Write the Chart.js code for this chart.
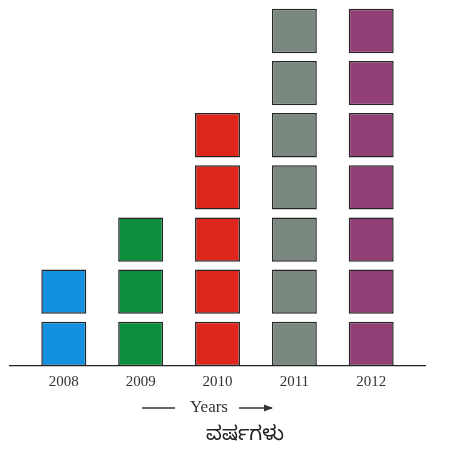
<!DOCTYPE html>
<html>
<head>
<meta charset="utf-8">
<script src="https://cdn.jsdelivr.net/npm/chart.js@4.4.0/dist/chart.umd.min.js"></script>
<style>
  body { margin: 0; background: #fff; }
  canvas { display: block; }
</style>
</head>
<body>
<canvas id="myChart" width="450" height="450"></canvas>
<script>
// data
var years = ['2008', '2009', '2010', '2011', '2012'];
var counts = [2, 3, 5, 7, 7];
var colors = ['#1390df', '#0b8f3d', '#df261c', '#7a887f', '#923f75'];
var blockSize = 0.85;   // part of one unit the square fills, rest is the gap

//one dataset per level of blocks, only years that reach that level
var datasets = [];
for (var k = 0; k < 7; k++) {
    var points = [];
    counts.forEach(function (c, i) {
        if (c > k) points.push({x: i, y: [k, k + blockSize]});
    });
    datasets.push({
        data: points,
        backgroundColor: function (c) { return colors[c.raw.x]; },
        borderColor: '#262626',
        borderWidth: 1.5,
        borderSkipped: false
    });
}

//axis caption: "Years" with arrows, and the kannada word under it
var caption = {
    id: 'caption',
    afterDraw: function (chart) {
        var ctx = chart.ctx;
        var area = chart.chartArea;
        var x0 = area.left;
        var y1 = area.bottom + 42;
        ctx.save();
        ctx.fillStyle = '#333';
        ctx.strokeStyle = '#333';
        ctx.lineWidth = 1.3;
        ctx.textAlign = 'center';
        ctx.textBaseline = 'middle';
        ctx.font = '17px "Liberation Serif", serif';
        ctx.fillText('Years', x0 + 199, y1);

        ctx.beginPath();
        ctx.moveTo(x0 + 132, y1);
        ctx.lineTo(x0 + 165, y1);
        ctx.moveTo(x0 + 229, y1);
        ctx.lineTo(x0 + 262, y1);
        ctx.stroke();
        ctx.beginPath();
        ctx.moveTo(x0 + 263, y1);
        ctx.lineTo(x0 + 254, y1 - 3.5);
        ctx.lineTo(x0 + 254, y1 + 3.5);
        ctx.closePath();
        ctx.fill();

        ctx.fillStyle = '#222';
        ctx.font = '20px "Noto Sans Kannada", "Noto Sans", sans-serif';
        ctx.fillText('ವರ್ಷಗಳು', x0 + 235, y1 + 30);
        ctx.restore();
    }
};

var ctx = document.getElementById('myChart').getContext('2d');
var myChart = new Chart(ctx, {
    type: 'bar',
    data: {datasets: datasets},
    plugins: [caption],
    options: {
        responsive: false,
        animation: false,
        layout: {padding: {left: 10, right: 25, top: 1, bottom: 52}},
        plugins: {legend: {display: false}, tooltip: {enabled: false}},
        datasets: {bar: {grouped: false, categoryPercentage: 1, barPercentage: 0.585}},
        scales: {
            x: {
                type: 'linear',
                offset: false,
                min: -0.7,
                max: 4.7,
                grid: {display: false, drawTicks: false},
                border: {display: true, color: '#222', width: 1.2},
                afterBuildTicks: function (scale) {
                    scale.ticks = years.map(function (y, i) { return {value: i}; });
                },
                ticks: {
                    padding: 7,
                    color: '#333',
                    font: {family: '"Liberation Serif", serif', size: 15},
                    callback: function (value) { return years[value]; }
                }
            },
            y: {
                display: false,
                min: 0,
                max: 7
            }
        }
    }
});
</script>
</body>
</html>
